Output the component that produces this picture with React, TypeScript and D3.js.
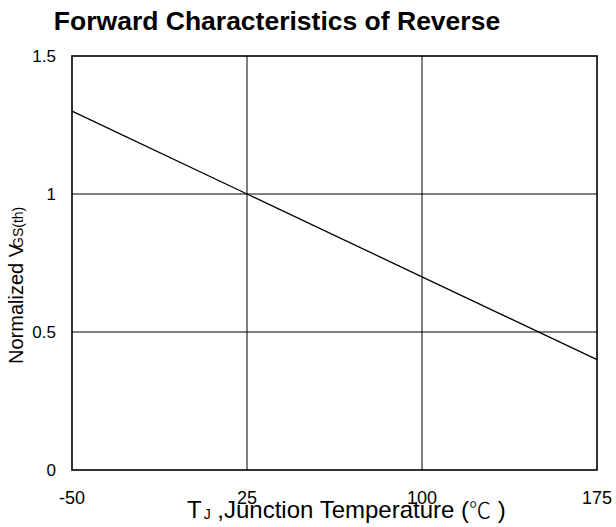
import React from 'react'
import * as d3 from 'd3'

const temps = [-50, 25, 100, 175]
const vgsNorm = [1.3, 1.0, 0.7, 0.4]
const xTicks = [-50, 25, 100, 175]
const yTicks = [0, 0.5, 1, 1.5]
const xGrid = [25, 100]
const yGrid = [0.5, 1]

const WIDTH = 616
const HEIGHT = 527
const FONT = 'Arial, "Liberation Sans", sans-serif'

const App = () => {
  const margin = { left: 72, right: 19, top: 56, bottom: 57 }
  const x = d3
    .scaleLinear()
    .domain([-50, 175])
    .range([margin.left, WIDTH - margin.right])
  const y = d3
    .scaleLinear()
    .domain([0, 1.5])
    .range([HEIGHT - margin.bottom, margin.top])

  const line = d3
    .line<number>()
    .x((_, i) => x(temps[i]))
    .y((d) => y(d))

  return (
    <svg
      width={WIDTH}
      height={HEIGHT}
      style={{ position: 'absolute', left: 0, top: 0, background: '#fff' }}
      fontFamily={FONT}
    >
      <text x={277} y={30} textAnchor="middle" fontSize={26.5} fontWeight="bold" fill="#000">
        Forward Characteristics of Reverse
      </text>

      {/* grid */}
      <g stroke="#000" strokeWidth={1}>
        {xGrid.map((t) => (
          <line key={'x' + t} x1={x(t)} x2={x(t)} y1={y(0)} y2={y(1.5)} />
        ))}
        {yGrid.map((t) => (
          <line key={'y' + t} x1={x(-50)} x2={x(175)} y1={y(t)} y2={y(t)} />
        ))}
      </g>

      <path d={line(vgsNorm) || ''} fill="none" stroke="#000" strokeWidth={1.3} />

      <rect
        x={x(-50)}
        y={y(1.5)}
        width={x(175) - x(-50)}
        height={y(0) - y(1.5)}
        fill="none"
        stroke="#000"
        strokeWidth={1.6}
      />

      {/* y tick labels */}
      <g fontSize={17} textAnchor="end" fill="#000">
        {yTicks.map((t) => (
          <text key={t} x={x(-50) - 16} y={y(t)} dy="0.35em">
            {String(t)}
          </text>
        ))}
      </g>

      {/* x tick labels */}
      <g fontSize={18} textAnchor="middle" fill="#000">
        {xTicks.map((t) => (
          <text key={t} x={x(t)} y={504}>
            {String(t)}
          </text>
        ))}
      </g>

      {/* x axis title */}
      <text x={187} y={518} fontSize={24} fill="#000">
        <tspan>T</tspan>
        <tspan fontSize={14} dx={2} dy={1}>J</tspan>
        <tspan dy={-1}> ,Junction Temperature (</tspan>
        <tspan fontFamily='"Noto Sans CJK SC", sans-serif' fontSize={22} fontWeight={300}>
          ℃
        </tspan>
        <tspan> )</tspan>
      </text>

      {/* y axis title */}
      <text transform="translate(23,364) rotate(-90)" fontSize={20} fill="#000">
        <tspan>Normalized V</tspan>
        <tspan fontSize={14} dx={-4}>GS(th)</tspan>
      </text>
    </svg>
  )
}

export default App
